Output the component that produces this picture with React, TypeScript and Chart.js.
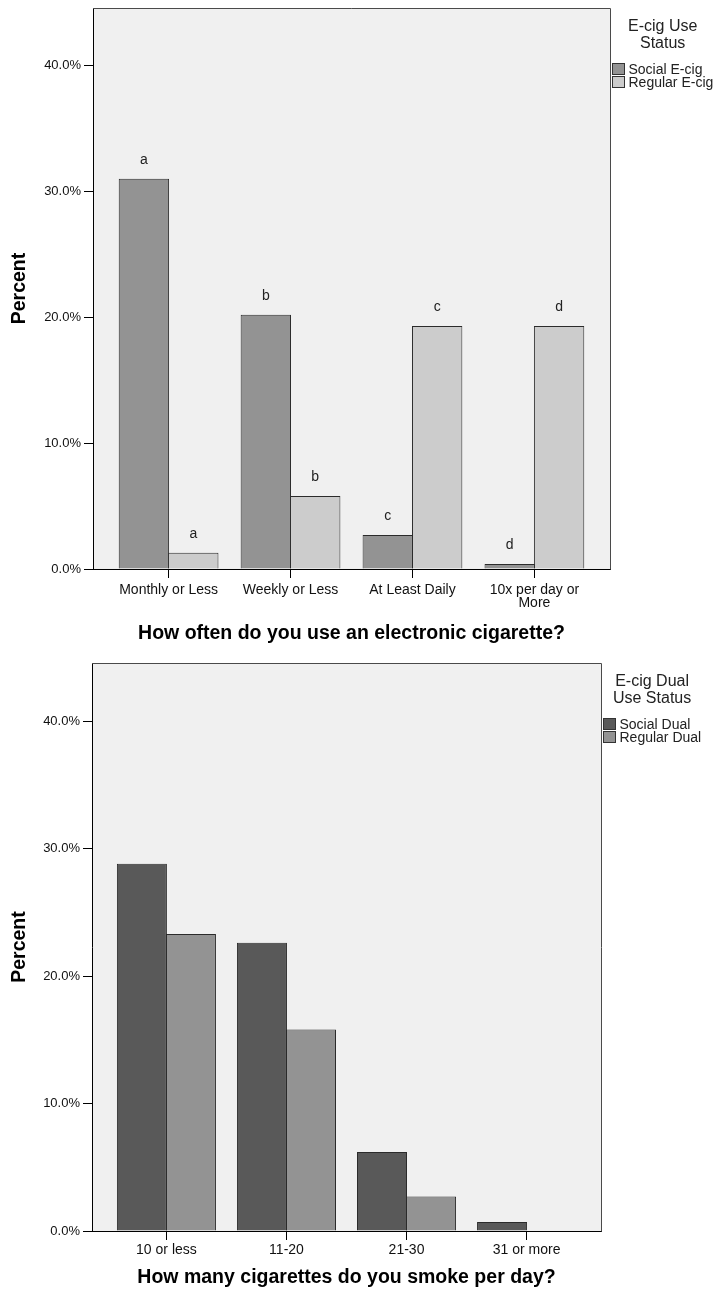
import React, { useEffect, useRef } from 'react';
import { Chart, registerables } from 'chart.js';

Chart.register(...registerables);

const FONT = "'Liberation Sans', Arial, Helvetica, sans-serif";

// ---------- Data ----------
const ecigCategories: (string | string[])[] = [
  'Monthly or Less',
  'Weekly or Less',
  'At Least Daily',
  ['10x per day or', 'More'],
];
const socialEcig = [31.0, 20.2, 2.7, 0.4];
const regularEcig = [1.3, 5.8, 19.3, 19.3];
const socialEcigLetters = ['a', 'b', 'c', 'd'];
const regularEcigLetters = ['a', 'b', 'c', 'd'];

const cigCategories: (string | string[])[] = ['10 or less', '11-20', '21-30', '31 or more'];
const socialDual = [28.8, 22.6, 6.2, 0.7];
const regularDual = [23.3, 15.8, 2.7, 0];

const yTickValues = [0, 10, 20, 30, 40];
const yMax = 44.55;

type Series = { label: string; values: number[]; color: string; letters?: string[] };
type Cfg = {
  categories: (string | string[])[];
  series: Series[];
  xTitle: string;
  legendTitle: string[];
  height: number;
  padTop: number;
  padBottom: number;
  padRight: number;
  yWidth: number;
  xHeight: number;
  xLabelPad: number;
  catPct: number;
};

const topCfg: Cfg = {
  categories: ecigCategories,
  series: [
    { label: 'Social E-cig', values: socialEcig, color: '#939393', letters: socialEcigLetters },
    { label: 'Regular E-cig', values: regularEcig, color: '#CCCCCC', letters: regularEcigLetters },
  ],
  xTitle: 'How often do you use an electronic cigarette?',
  legendTitle: ['E-cig Use', 'Status'],
  height: 645,
  padTop: 8,
  padBottom: 0,
  padRight: 104,
  yWidth: 93,
  xHeight: 76,
  xLabelPad: 6,
  catPct: 0.81,
};

const bottomCfg: Cfg = {
  categories: cigCategories,
  series: [
    { label: 'Social Dual', values: socialDual, color: '#595959' },
    { label: 'Regular Dual', values: regularDual, color: '#939393' },
  ],
  xTitle: 'How many cigarettes do you smoke per day?',
  legendTitle: ['E-cig Dual', 'Use Status'],
  height: 647,
  padTop: 18,
  padBottom: 3,
  padRight: 113,
  yWidth: 92,
  xHeight: 58,
  xLabelPad: 4,
  catPct: 0.817,
};

function buildConfig(cfg: Cfg): any {
  const plotBg = {
    id: 'plotBg',
    beforeDraw(chart: any) {
      const { ctx, chartArea: a } = chart;
      ctx.save();
      ctx.fillStyle = '#F0F0F0';
      ctx.fillRect(a.left, a.top, a.right - a.left, a.bottom - a.top);
      ctx.restore();
    },
    afterDraw(chart: any) {
      const { ctx, chartArea: a } = chart;
      ctx.save();
      ctx.strokeStyle = '#4a4a4a';
      ctx.lineWidth = 1;
      const t = Math.round(a.top) + 0.5;
      const r = Math.round(a.right) + 0.5;
      ctx.beginPath();
      ctx.moveTo(a.left, t);
      ctx.lineTo(r, t);
      ctx.lineTo(r, a.bottom + 0.5);
      ctx.stroke();
      ctx.restore();

      // Legend
      ctx.save();
      const boxX = a.right + 2;
      const textX = boxX + 16.5;
      ctx.font = `14px ${FONT}`;
      const maxW = Math.max(...cfg.series.map((s) => ctx.measureText(s.label).width));
      const cx = (boxX + textX + maxW) / 2;
      ctx.fillStyle = '#222';
      ctx.textAlign = 'center';
      ctx.textBaseline = 'middle';
      ctx.font = `16px ${FONT}`;
      cfg.legendTitle.forEach((line, k) => {
        ctx.fillText(line, cx, a.top + 18.5 + k * 16.7);
      });
      ctx.font = `14px ${FONT}`;
      ctx.textAlign = 'left';
      cfg.series.forEach((s, k) => {
        const by = Math.round(a.top + 54.5 + k * 13);
        ctx.fillStyle = s.color;
        ctx.fillRect(Math.round(boxX), by, 13, 12);
        ctx.strokeStyle = '#333';
        ctx.strokeRect(Math.round(boxX) + 0.5, by + 0.5, 12, 11);
        ctx.fillStyle = '#222';
        ctx.fillText(s.label, textX, by + 7);
      });
      ctx.restore();
    },
    afterDatasetsDraw(chart: any) {
      const ctx = chart.ctx;
      ctx.save();
      ctx.font = `14px ${FONT}`;
      ctx.fillStyle = '#222';
      ctx.textAlign = 'center';
      ctx.textBaseline = 'alphabetic';
      cfg.series.forEach((s, i) => {
        if (!s.letters) return;
        const meta = chart.getDatasetMeta(i);
        meta.data.forEach((el: any, j: number) => {
          ctx.fillText(s.letters![j], el.x, el.y - 15);
        });
      });
      ctx.restore();
    },
  };

  const titleFont = { family: FONT, size: 19.5, weight: 'bold' as const, lineHeight: 1.2 };

  return {
    type: 'bar',
    data: {
      datasets: cfg.series.map((s) => ({
        label: s.label,
        data: s.values.map((v, i) => ({ x: i, y: v })),
        backgroundColor: s.color,
        borderColor: '#2b2b2b',
        borderWidth: 1,
        barPercentage: 1.02,
        categoryPercentage: cfg.catPct,
      })),
    },
    options: {
      responsive: false,
      animation: false,
      devicePixelRatio: 1,
      layout: { padding: { left: 0, right: cfg.padRight, top: cfg.padTop, bottom: cfg.padBottom } },
      plugins: { legend: { display: false }, tooltip: { enabled: false } },
      scales: {
        x: {
          type: 'linear',
          position: 'bottom',
          offset: false,
          min: -0.62,
          max: 3.62,
          bounds: 'data',
          afterBuildTicks: (s: any) => {
            s.ticks = cfg.categories.map((_, i) => ({ value: i }));
          },
          afterFit: (s: any) => {
            s.height = cfg.xHeight;
            s.paddingLeft = 0;
            s.paddingRight = 0;
          },
          grid: {
            display: true,
            offset: false,
            drawOnChartArea: false,
            drawTicks: true,
            tickLength: 9,
            color: '#000',
          },
          border: { display: true, color: '#000', width: 1 },
          ticks: {
            autoSkip: false,
            maxRotation: 0,
            minRotation: 0,
            padding: cfg.xLabelPad,
            color: '#111',
            font: { family: FONT, size: 14, lineHeight: 0.9 },
            callback: (v: any) => cfg.categories[Math.round(Number(v))],
          },
          title: {
            display: true,
            text: cfg.xTitle,
            color: '#000',
            font: titleFont,
            padding: { top: 0, bottom: 0 },
          },
        },
        y: {
          type: 'linear',
          min: 0,
          max: yMax,
          bounds: 'data',
          afterBuildTicks: (s: any) => {
            s.ticks = yTickValues.map((v) => ({ value: v }));
          },
          afterFit: (s: any) => {
            s.width = cfg.yWidth;
            s.paddingTop = 0;
            s.paddingBottom = 0;
          },
          grid: { display: true, drawOnChartArea: false, drawTicks: true, tickLength: 9, color: '#000' },
          border: { display: true, color: '#000', width: 1 },
          ticks: {
            padding: 3,
            color: '#111',
            font: { family: FONT, size: 13 },
            callback: (v: any) => Number(v).toFixed(1) + '%',
          },
          title: {
            display: true,
            text: 'Percent',
            color: '#000',
            font: titleFont,
            padding: { top: 7.5, bottom: 0 },
          },
        },
      },
    },
    plugins: [plotBg],
  };
}

function ChartCanvas({ cfg, top }: { cfg: Cfg; top: number }) {
  const ref = useRef<HTMLCanvasElement>(null);
  useEffect(() => {
    const chart = new Chart(ref.current!, buildConfig(cfg));
    return () => chart.destroy();
  }, []);
  return (
    <canvas
      ref={ref}
      width={714}
      height={cfg.height}
      style={{ position: 'absolute', left: 0, top, width: 714, height: cfg.height, display: 'block' }}
    />
  );
}

export default function App() {
  return (
    <div style={{ position: 'absolute', left: 0, top: 0, width: 714, height: 1292, background: '#fff' }}>
      <ChartCanvas cfg={topCfg} top={0} />
      <ChartCanvas cfg={bottomCfg} top={645} />
    </div>
  );
}
